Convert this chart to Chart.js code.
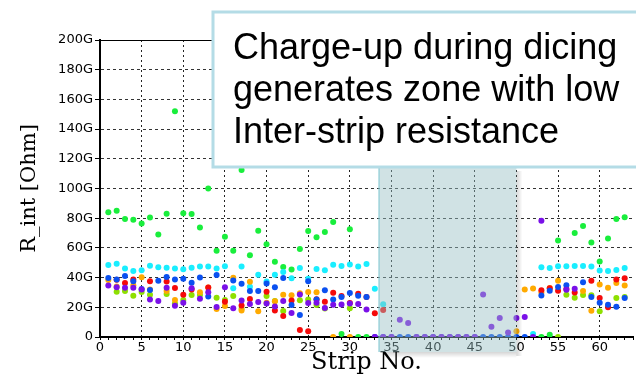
<!DOCTYPE html>
<html>
<head>
<meta charset="utf-8">
<script src="https://cdn.jsdelivr.net/npm/chart.js@4"></script>
<style>
  html, body { margin: 0; padding: 0; background: #fff; }
</style>
</head>
<body>
<canvas id="myChart" width="636" height="375"></canvas>
<script>
// Strip numbers (x axis)
var strips = [1, 2, 3, 4, 5, 6, 7, 8, 9, 10, 11, 12, 13, 14, 15, 16, 17, 18, 19, 20,
              21, 22, 23, 24, 25, 26, 27, 28, 29, 30, 31, 32, 33, 34, 35, 36, 37, 38, 39, 40,
              41, 42, 43, 44, 45, 46, 47, 48, 49, 50, 51, 52, 53, 54, 55, 56, 57, 58, 59, 60,
              61, 62, 63];

// R_int in GOhm, one value per strip (null = no visible point)
var greenVals = [84, 85, 79.5, 79, 76.5, 80.5, 69, 83, 152, 83.3, 82.8, 73.8, 100, 58, 67.5, 58, 112.5, 55, 71.6, 62.5,
                 50.7, 47.1, 45.5, 59.3, 71.4, 67.2, 70.7, 77.4, 2, 72.5, 0, 0, null, null, null, null, null, null, null, null,
                 null, null, null, null, null, null, null, null, null, null, null, null, 0, 1.5, 64.9, null, 70, 74.7, 63.7, 50.9,
                 66.4, 79.5, 80.6];
var cyanVals = [48.5, 49.4, 46.2, 44.4, 44.9, 48, 46.9, 46.7, 46.2, 45.6, 46.7, 47.4, 47.4, 46.2, 47.6, 32.8, 47.4, 33.9, 42, 37.3,
                42, 43.8, 39.5, 46.5, 39.3, 45.8, 44.9, 48.7, 47.8, 48.9, 47.4, 49.2, 32.5, 22, null, null, null, null, null, null,
                null, null, null, null, null, null, null, null, null, null, null, 2, 46.9, 46.5, 47.6, 47.6, 47.8, 47.8, 47.4, 44.7,
                44.4, 45.2, 46.5];
var blueVals = [39.7, 38.8, 41, 37.5, 32.4, 31.6, 37.9, 40.4, 38.8, 39.3, 36.6, 40, 27.3, 41.7, null, 38.1, 35.9, 31, 31, 36.1,
                33.5, 39.7, 21.6, 14.8, 37.5, 25.3, 31.4, 25.3, 27, 29.6, 27.8, 26.9, 0, 0, 0, 0, 0, 0, 0, 0,
                0, 0, 0, 0, 0, 0, 0, 0, 0, 0, 0, null, 28, 31.2, 33.7, 34.8, null, 36.8, 27, 23.1,
                21.8, 20.4, 26.2];
var redVals = [null, 38.6, 36.4, 38.8, null, 37.5, null, 37.3, 33, 28.5, 32, null, 33.4, null, 23.8, null, 21.2, 25.6, null, 30.5,
               17.8, 14.1, 24.5, 4.7, 3.8, 25.5, 23.8, 29.8, 27.6, 22.9, 29.2, 27, 16, 18.2, null, null, null, null, null, null,
               null, null, null, null, null, null, null, null, null, null, null, null, 31.4, 32.8, 31.2, 32.3, 30, null, 37.9, 26.2,
               20, 38.8, 39.5];
var orangeVals = [38.4, 34, null, 34.8, 40.2, 32, null, 31, 24.9, null, null, 30.1, 33.4, 18.9, 20.8, 39.9, 17.8, 37.2, 17.3, 23,
                  24, 28.5, 28.1, 29.5, 30.3, 30.1, null, 0, null, 0, null, null, null, null, null, null, null, null, null, null,
                  null, null, null, null, null, null, null, null, null, 3.8, 32, 32.7, 30, 33, 37.8, null, null, 31, 17.7, 35.4,
                  33.2, 36.3, 34.6];
var limeVals = [null, 30.5, 31, 27.8, 30.3, 28.5, null, 28.9, 22.6, 24.9, 28.3, 28.3, null, 26.5, 24.9, 27.6, 19, null, null, 27.6,
                24.2, 17.5, null, 24.7, 25.3, 21.5, 19.2, null, null, 19.3, null, null, null, null, null, null, null, null, null, null,
                null, null, null, null, null, null, null, null, null, null, null, null, null, null, 0, 28.5, 26.5, 28.3, 28.1, 17.3,
                null, 26.3, 26.9];
var purpleVals = [34.6, 33.5, 33.2, 33.2, 32, 25.3, 24.2, 33.2, 21.1, 23.1, 32.8, 25.8, 30.1, 20.2, 33.5, 19.3, 24.5, 22.2, 23.6, 22.5,
                  20.5, 24.2, 16.1, 28.7, 22.9, 23.1, 19.5, 21.7, 21.9, 22.5, 22.2, 18.5, 0, 0, 0, 11.7, 9.4, 0, 0, 0,
                  0, 0, 0, 0, 0, 28.7, 6.9, 12.8, 3.1, 12.8, 13.4, 0, 78.3, null, null, 31.8, 32.5, null, null, null,
                  null, null, null];

var seriesVals = [purpleVals, blueVals, redVals, orangeVals, limeVals, cyanVals, greenVals];
var seriesColors = ['#7a10e8', '#0a50f0', '#f50a0a', '#ffaa00', '#8ee000', '#19eeff', '#19ee3c'];

// shaded low-resistance zone (strip range) and note text
var zoneStart = 33.5, zoneEnd = 50;
var noteLines = ['Charge-up during dicing', 'generates zone with low', 'Inter-strip resistance'];

function toPoints(vals) {
    var pts = [];
    for (var i = 0; i < strips.length; i++) {
        if (vals[i] !== null) pts.push({ x: strips[i], y: vals[i] });
    }
    return pts;
}

var datasets = seriesVals.map(function (vals, i) {
    return {
        data: toPoints(vals),
        backgroundColor: seriesColors[i],
        borderWidth: 0,
        pointRadius: 3,
        pointHoverRadius: 3
    };
});

// zone shading and text box drawn on top of the plot
var overlay = {
    id: 'overlay',
    afterDraw: function (chart) {
        var ctx = chart.ctx;
        var xs = chart.scales.x;
        var x1 = xs.getPixelForValue(zoneStart);
        var x2 = xs.getPixelForValue(zoneEnd);
        var top = 167, bottom = 352;
        ctx.save();
        // soft shadow on right and bottom
        var gr = ctx.createLinearGradient(x2, 0, x2 + 6, 0);
        gr.addColorStop(0, 'rgba(0,0,0,0.16)');
        gr.addColorStop(1, 'rgba(0,0,0,0)');
        ctx.fillStyle = gr;
        ctx.fillRect(x2, top + 4, 6, bottom - top);
        var gb = ctx.createLinearGradient(0, bottom, 0, bottom + 6);
        gb.addColorStop(0, 'rgba(0,0,0,0.16)');
        gb.addColorStop(1, 'rgba(0,0,0,0)');
        ctx.fillStyle = gb;
        ctx.fillRect(x1 + 4, bottom, x2 - x1 - 4, 6);

        ctx.fillStyle = 'rgba(150,190,195,0.45)';
        ctx.fillRect(x1, top, x2 - x1, bottom - top);
        ctx.strokeStyle = 'rgba(130,200,210,0.7)';
        ctx.lineWidth = 1.5;
        ctx.beginPath();
        ctx.moveTo(x1, top);
        ctx.lineTo(x1, bottom);
        ctx.stroke();

        ctx.fillStyle = '#fff';
        ctx.fillRect(213, 12, 440, 155);
        ctx.strokeStyle = '#b4dce6';
        ctx.lineWidth = 3;
        ctx.strokeRect(213, 12, 440, 155);
        ctx.fillStyle = '#000';
        ctx.font = '36px "Liberation Sans", Arial, sans-serif';
        ctx.textBaseline = 'alphabetic';
        noteLines.forEach(function (t, i) {
            ctx.fillText(t, 233, 59 + i * 42);
        });
        ctx.restore();
    }
};

var ctx = document.getElementById('myChart').getContext('2d');
var myChart = new Chart(ctx, {
    type: 'scatter',
    data: { datasets: datasets },
    options: {
        responsive: false,
        animation: false,
        devicePixelRatio: 1,
        layout: { padding: { top: 40, right: 0, left: 0, bottom: 0 } },
        plugins: {
            legend: { display: false },
            tooltip: { enabled: false }
        },
        scales: {
            x: {
                type: 'linear',
                min: 0,
                max: 64,
                afterFit: function (scale) { scale.height = 38; },
                ticks: {
                    stepSize: 1,
                    autoSkip: false,
                    maxRotation: 0,
                    padding: 0,
                    color: '#000',
                    font: { family: 'DejaVu Sans', size: 13 },
                    callback: function (v) { return v % 5 === 0 ? v : ''; }
                },
                grid: {
                    color: function (c) {
                        return c.tick && c.tick.value % 5 === 0 && c.tick.value > 0 ? '#222' : 'rgba(0,0,0,0)';
                    },
                    tickColor: '#000',
                    tickLength: 3
                },
                border: { color: '#000', width: 2, dash: [2, 3] },
                title: {
                    display: true,
                    text: 'Strip No.',
                    color: '#000',
                    font: { family: 'DejaVu Serif', size: 24, lineHeight: 1 },
                    padding: { top: 0, bottom: 0 }
                }
            },
            y: {
                min: 0,
                max: 200,
                afterFit: function (scale) { scale.width = 100; },
                ticks: {
                    stepSize: 20,
                    padding: 2,
                    color: '#000',
                    font: { family: 'DejaVu Sans', size: 13 },
                    callback: function (v) { return v === 0 ? '0' : v + 'G'; }
                },
                grid: {
                    color: function (c) {
                        if (!c.tick || c.tick.value === 0) return 'rgba(0,0,0,0)';
                        return c.tick.value === 200 ? '#000' : '#333';
                    },
                    tickColor: '#000',
                    tickLength: 5
                },
                border: {
                    color: '#000',
                    width: 2,
                    dash: function (c) { return c.tick && c.tick.value === 200 ? [] : [3, 3]; }
                },
                title: {
                    display: true,
                    text: 'R_int [Ohm]',
                    color: '#000',
                    font: { family: 'DejaVu Serif', size: 21 },
                    padding: { top: 17, bottom: 0 }
                }
            }
        }
    },
    plugins: [overlay]
});
</script>
</body>
</html>
